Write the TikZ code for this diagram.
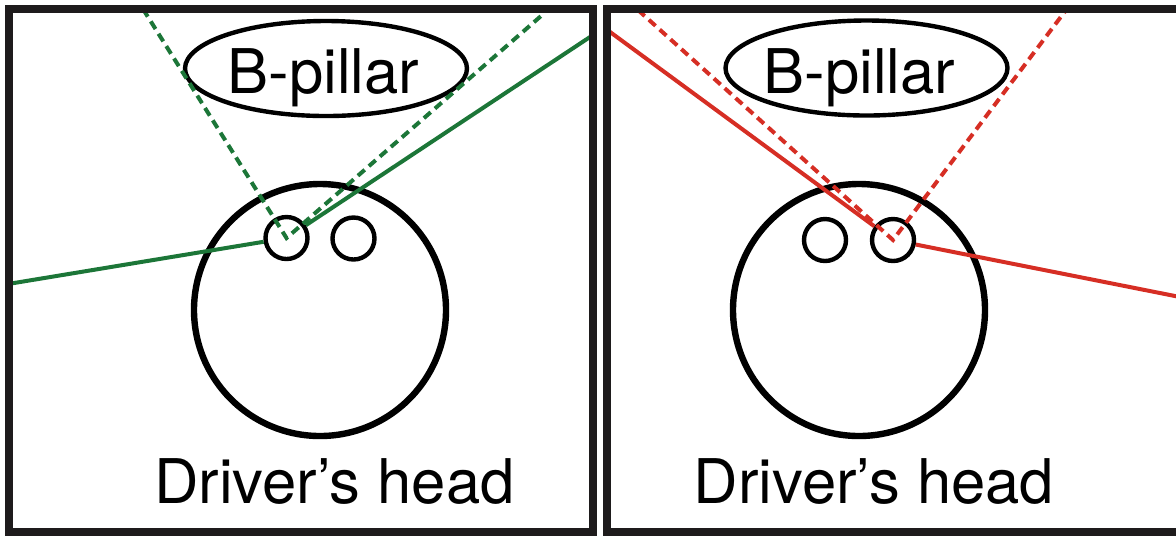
\documentclass[tikz,border=0pt]{standalone}
\usepackage{fontspec}
\setmainfont{TeX Gyre Heros}
\usetikzlibrary{shapes.geometric}
\definecolor{frameblk}{RGB}{30,27,28}
\definecolor{sightgreen}{RGB}{28,118,56}
\definecolor{sightred}{RGB}{214,46,36}
\begin{document}
\begin{tikzpicture}[x=0.5pt,y=-0.5pt,
  frame/.style={draw=frameblk, line width=4pt},
  head/.style={circle, draw=black, line width=3.2pt, minimum size=126pt, inner sep=0pt},
  eye/.style={circle, draw=black, line width=2.2pt, minimum size=21pt, inner sep=0pt},
  pillar/.style={ellipse, draw=black, line width=2.2pt, minimum width=141pt, minimum height=47.5pt, inner sep=0pt},
  lbl/.style={inner sep=0pt, font=\fontsize{30.8pt}{37pt}\selectfont},
  sightsolid/.style={line width=2pt},
  sightdash/.style={line width=2pt, dash pattern=on 4.5pt off 2.8pt}]
\useasboundingbox (0,0) rectangle (1176,538);
\clip (0,0) rectangle (1176,538);

% ---------- left panel ----------
\node[pillar] (pL) at (326,68.5) {};
\node[lbl, anchor=base] (pLt) at (323.5,93) {B-pillar};
\node[head] (hL) at (320,310) {};
\node[eye] (eL1) at (286.5,238) {};
\node[eye] (eL2) at (353.5,238.5) {};
\node[lbl, anchor=base] (dL) at (334.5,503) {Driver’s head};

\coordinate (gdA) at (143,9);
\coordinate (gdB) at (541,16);
\coordinate (gsA) at (8,284);
\coordinate (gsB) at (593,35);
\draw[sightgreen, sightdash] (gdA) -- (eL1.center) -- (gdB);
\draw[sightgreen, sightsolid] (gsA) -- (eL1);
\draw[sightgreen, sightsolid] (eL1) -- (gsB);

% ---------- right panel ----------
\node[pillar] (pR) at (866.5,68) {};
\node[lbl, anchor=base] (pRt) at (859.5,93) {B-pillar};
\node[head] (hR) at (859,310) {};
\node[eye] (eR1) at (825,240) {};
\node[eye] (eR2) at (893,240) {};
\node[lbl, anchor=base] (dR) at (874,503) {Driver’s head};

\coordinate (rdA) at (638,10);
\coordinate (rdB) at (1066,10);
\coordinate (rsA) at (606,29);
\coordinate (rsB) at (1180,297);
\draw[sightred, sightdash] (rdA) -- (eR2.center) -- (rdB);
\draw[sightred, sightsolid] (rsA) -- (eR2);
\draw[sightred, sightsolid] (eR2) -- (rsB);

% ---------- frames ----------
\draw[frame] (8.5,8.5) rectangle (592.5,531.5);
\draw[frame] (606.5,8.5) rectangle (1200,531.5);
\end{tikzpicture}
\end{document}
